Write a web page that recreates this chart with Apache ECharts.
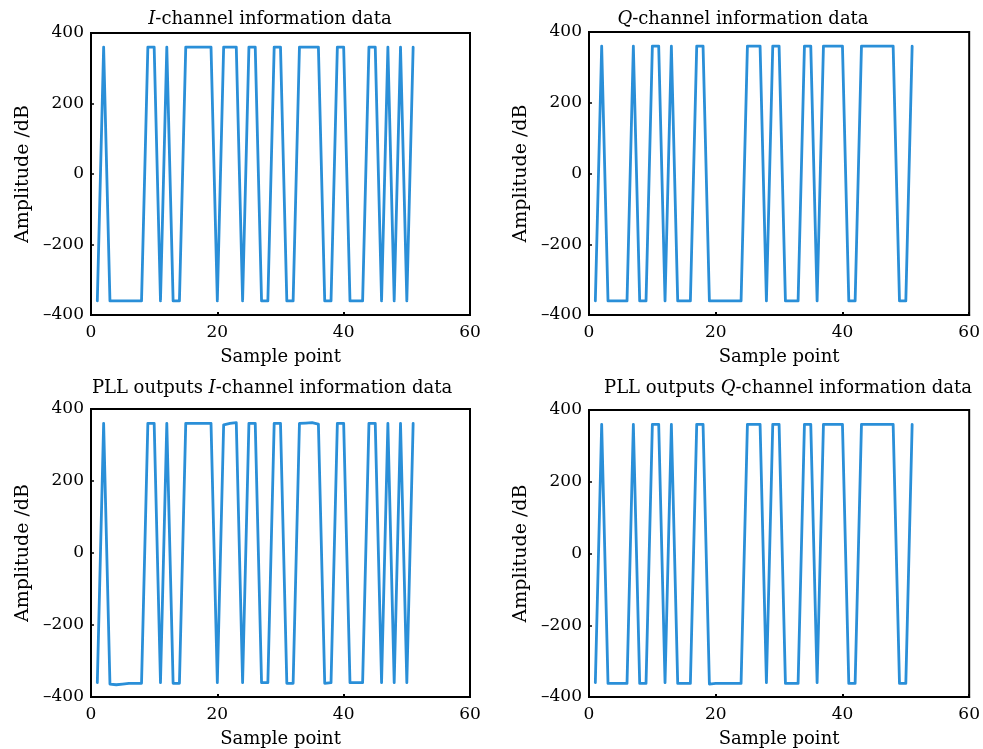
<!DOCTYPE html>
<html>
<head>
<meta charset="utf-8">
<title>I/Q channel information data</title>
<script src="https://cdn.jsdelivr.net/npm/echarts@6/dist/echarts.min.js"></script>
<style>
  html, body { margin: 0; padding: 0; background: #fff; }
  #main { width: 983px; height: 749px; }
</style>
</head>
<body>
<div id="main"></div>
<script>
// sample points 1..51
var samples = [];
for (var n = 1; n <= 51; n++) samples.push(n);

// I-channel information data
var iData = [-360, 360, -360, -360, -360, -360, -360, -360, 360, 360,
  -360, 360, -360, -360, 360, 360, 360, 360, 360, -360,
  360, 360, 360, -360, 360, 360, -360, -360, 360, 360,
  -360, -360, 360, 360, 360, 360, -360, -360, 360, 360,
  -360, -360, -360, 360, 360, -360, 360, -360, 360, -360,
  360];

// Q-channel information data
var qData = [-360, 360, -360, -360, -360, -360, 360, -360, -360, 360,
  360, -360, 360, -360, -360, -360, 360, 360, -360, -360,
  -360, -360, -360, -360, 360, 360, 360, -360, 360, 360,
  -360, -360, -360, 360, 360, -360, 360, 360, 360, 360,
  -360, -360, 360, 360, 360, 360, 360, 360, -360, -360,
  360];

// PLL outputs I-channel
var pllIData = [-360, 360, -364, -366, -364, -362, -362, -362, 360, 360,
  -360, 360, -362, -362, 360, 360, 360, 360, 360, -360,
  356, 360, 362, -360, 360, 360, -360, -360, 360, 360,
  -362, -362, 360, 361, 362, 358, -362, -360, 360, 360,
  -360, -360, -360, 360, 360, -360, 360, -360, 360, -360,
  360];

// PLL outputs Q-channel
var pllQData = [-360, 360, -362, -362, -362, -362, 360, -362, -362, 360,
  360, -360, 360, -362, -362, -362, 360, 360, -364, -362,
  -362, -362, -362, -362, 360, 360, 360, -360, 360, 360,
  -362, -362, -362, 360, 360, -360, 360, 360, 360, 360,
  -362, -362, 360, 360, 360, 360, 360, 360, -362, -362,
  360];

var xTicks = [0, 20, 40, 60];
var yTicks = [-400, -200, 0, 200, 400];

var font = "DejaVu Serif";
var lineColor = "#2a8fd8";

var panels = [
  { data: iData, left: 91, top: 33, width: 379, height: 282, tx: 265, ty: 5, ch: "I", pre: "" },
  { data: qData, left: 589, top: 32, width: 381, height: 283, tx: 738, ty: 5, ch: "Q", pre: "" },
  { data: pllIData, left: 91, top: 409, width: 379, height: 288, tx: 267, ty: 374, ch: "I", pre: "PLL outputs " },
  { data: pllQData, left: 589, top: 410, width: 381, height: 287, tx: 783, ty: 374, ch: "Q", pre: "PLL outputs " }
];

function pts(vals) {
  return vals.map(function (v, i) { return [samples[i], v]; });
}

var option = {
  backgroundColor: "#fff",
  animation: false,
  textStyle: { fontFamily: font, color: "#000" },
  title: [],
  grid: [],
  xAxis: [],
  yAxis: [],
  series: []
};

panels.forEach(function (p, i) {
  option.title.push({
    text: p.pre + "{it|" + p.ch + "}-channel information data",
    left: p.tx,
    top: p.ty,
    textAlign: "center",
    textStyle: {
      fontFamily: font, fontSize: 18, fontWeight: "normal", color: "#000",
      rich: { it: { fontFamily: font, fontSize: 18, fontStyle: "italic", color: "#000" } }
    }
  });
  option.grid.push({
    left: p.left, top: p.top, width: p.width, height: p.height,
    show: true, borderColor: "#000", borderWidth: 2, backgroundColor: "#fff"
  });
  option.xAxis.push({
    gridIndex: i,
    type: "value",
    min: xTicks[0], max: xTicks[xTicks.length - 1], interval: 20,
    name: "Sample point",
    nameLocation: "middle",
    nameGap: 33,
    nameTextStyle: { fontFamily: font, fontSize: 18, color: "#000" },
    axisLine: { onZero: false, lineStyle: { color: "#000", width: 2 } },
    axisTick: { inside: true, length: 3, lineStyle: { color: "#000", width: 2 } },
    axisLabel: { fontFamily: font, fontSize: 17, color: "#000", margin: 9 },
    splitLine: { show: false }
  });
  option.yAxis.push({
    gridIndex: i,
    type: "value",
    min: yTicks[0], max: yTicks[yTicks.length - 1], interval: 200,
    name: "Amplitude /dB",
    nameLocation: "middle",
    nameGap: 58,
    nameTextStyle: { fontFamily: font, fontSize: 19, color: "#000" },
    axisLine: { onZero: false, lineStyle: { color: "#000", width: 2 } },
    axisTick: { inside: true, length: 3, lineStyle: { color: "#000", width: 1.5 } },
    axisLabel: {
      fontFamily: font, fontSize: 17, color: "#000", margin: 7,
      formatter: function (v) { return String(v).replace("-", "\u2013"); }
    },
    splitLine: { show: false }
  });
  option.series.push({
    type: "line",
    xAxisIndex: i,
    yAxisIndex: i,
    data: pts(p.data),
    showSymbol: false,
    symbol: "none",
    lineStyle: { color: lineColor, width: 2.8, join: "round", cap: "round" }
  });
});

var myChart = echarts.init(document.getElementById("main"));
myChart.setOption(option);
</script>
</body>
</html>
